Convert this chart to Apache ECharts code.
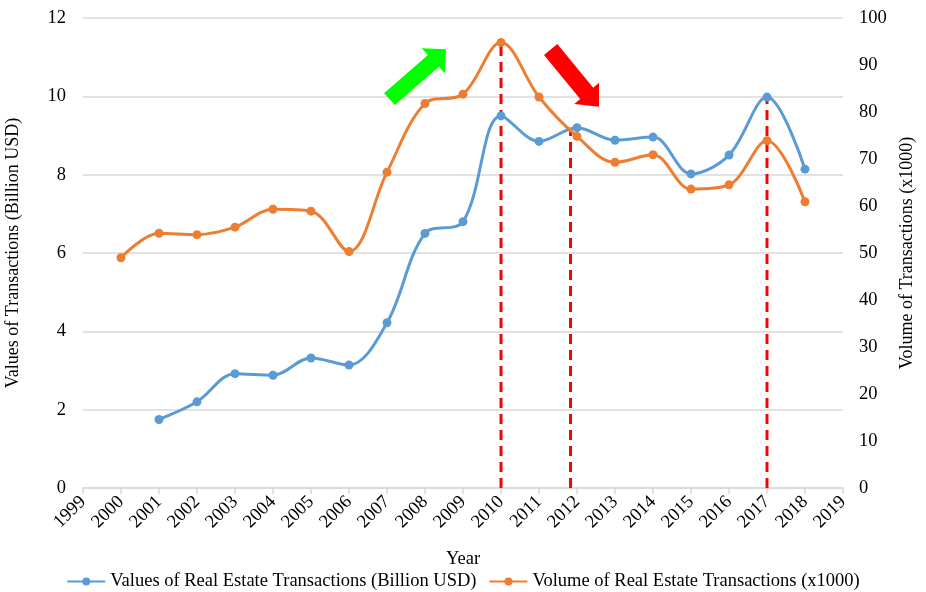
<!DOCTYPE html>
<html>
<head>
<meta charset="utf-8">
<script src="https://cdn.jsdelivr.net/npm/echarts@6/dist/echarts.min.js"></script>
<style>html,body{margin:0;padding:0;background:#fff}#c{width:926px;height:592px}</style>
</head>
<body>
<div id="c"></div>
<script>
const years = [2000,2001,2002,2003,2004,2005,2006,2007,2008,2009,2010,2011,2012,2013,2014,2015,2016,2017,2018];
const valueSeries = [null,1.75,2.2,2.92,2.88,3.32,3.14,4.22,6.5,6.8,9.5,8.85,9.2,8.88,8.96,8.02,8.5,9.98,8.14];
const volumeSeries = [49.0,54.2,53.9,55.5,59.3,58.9,50.3,67.2,81.8,83.8,94.8,83.2,74.8,69.3,70.9,63.6,64.5,73.9,60.9];
const markerYears = [2010, 2011.83, 2017];
const markerTops = [11.4, 9.2, 10.0];
const leftTicks = {min:0, max:12, interval:2};
const rightTicks = {min:0, max:100, interval:10};
const xTicks = {min:1999, max:2019, interval:1};
const nameValue = 'Values of Real Estate Transactions (Billion USD)';
const nameVolume = 'Volume of Real Estate Transactions (x1000)';

const font = 'Liberation Serif';
const fs = 18.5;
const chart = echarts.init(document.getElementById('c'));
const dashed = markerYears.map((yr, i) => ({
  type: 'line', xAxisIndex: 0, yAxisIndex: 0, silent: true, symbol: 'none',
  data: [[yr, 0], [yr, markerTops[i]]],
  lineStyle: {color: '#ff0000', width: 3, type: [10, 6]}, z: 1
}));
chart.setOption({
  animation: false,
  textStyle: {fontFamily: font},
  grid: {left: 83, right: 83, top: 18, bottom: 104, containLabel: false, outerBoundsMode: 'none'},
  legend: {
    top: 567, left: 'center', itemGap: 12, itemWidth: 38, itemHeight: 10,
    data: [nameValue, nameVolume],
    textStyle: {fontFamily: font, fontSize: fs, color: '#000'}
  },
  xAxis: {
    type: 'value', min: xTicks.min, max: xTicks.max, interval: xTicks.interval,
    name: 'Year', nameLocation: 'middle', nameGap: 62,
    nameTextStyle: {fontFamily: font, fontSize: fs, color: '#000'},
    axisLine: {show: true, lineStyle: {color: '#d9d9d9', width: 1.5}},
    axisTick: {show: true, length: 6, lineStyle: {color: '#d9d9d9', width: 1.5}},
    splitLine: {show: false},
    axisLabel: {rotate: 45, fontSize: fs, color: '#000', fontFamily: font, margin: 11,
      formatter: v => String(v)}
  },
  yAxis: [{
    type: 'value', min: leftTicks.min, max: leftTicks.max, interval: leftTicks.interval,
    name: 'Values of Transactions (Billion USD)', nameLocation: 'middle', nameGap: 61,
    nameTextStyle: {fontFamily: font, fontSize: 18, color: '#000'},
    axisLine: {show: false}, axisTick: {show: false},
    splitLine: {lineStyle: {color: '#d9d9d9', width: 1.5}},
    axisLabel: {fontSize: fs, color: '#000', fontFamily: font, margin: 17}
  }, {
    type: 'value', min: rightTicks.min, max: rightTicks.max, interval: rightTicks.interval,
    name: 'Volume of Transactions (x1000)', nameLocation: 'middle', nameGap: 55,
    nameRotate: 90,
    nameTextStyle: {fontFamily: font, fontSize: 18, color: '#000'},
    axisLine: {show: false}, axisTick: {show: false}, splitLine: {show: false},
    axisLabel: {fontSize: fs, color: '#000', fontFamily: font, margin: 16}
  }],
  series: [
    ...dashed,
    {
      name: nameValue, type: 'line', yAxisIndex: 0, smooth: 0.35,
      data: years.map((y, i) => [y, valueSeries[i]]).filter(d => d[1] !== null),
      symbol: 'circle', symbolSize: 9,
      itemStyle: {color: '#5b9bd5'}, lineStyle: {color: '#5b9bd5', width: 3}, z: 3
    },
    {
      name: nameVolume, type: 'line', yAxisIndex: 1, smooth: 0.35,
      data: years.map((y, i) => [y, volumeSeries[i]]),
      symbol: 'circle', symbolSize: 9,
      itemStyle: {color: '#ed7d31'}, lineStyle: {color: '#ed7d31', width: 3}, z: 3
    }
  ],
  graphic: [
    {type: 'polygon', z: 10, shape: {points: [[384,93.3],[427.9,55],[421.7,48.3],[446,49.3],[445,73.3],[438.8,66.7],[395,105]]}, style: {fill: '#00ff00'}},
    {type: 'polygon', z: 10, shape: {points: [[557.3,44],[593.2,87.7],[599,82.7],[599,106.7],[574.3,104],[580.2,98.9],[544,55]]}, style: {fill: '#ff0000'}}
  ]
});
</script>
</body>
</html>
